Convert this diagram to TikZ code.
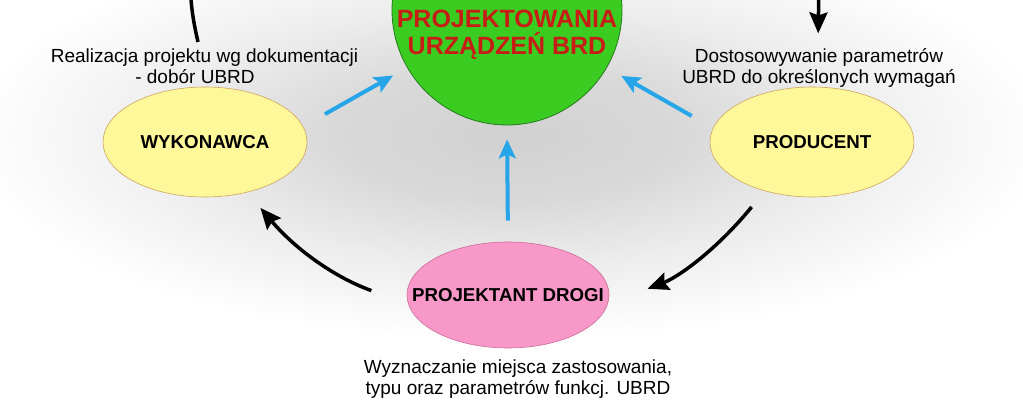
\documentclass[tikz,border=0pt]{standalone}
\usepackage{fontspec}
\setmainfont{Liberation Sans}
\usetikzlibrary{shapes.geometric,arrows.meta}
\definecolor{hubgreen}{RGB}{58,204,32}
\definecolor{hubline}{RGB}{40,120,30}
\definecolor{hubred}{RGB}{200,28,22}
\definecolor{paleyellow}{RGB}{255,248,155}
\definecolor{tanline}{RGB}{205,165,95}
\definecolor{rosefill}{RGB}{247,152,200}
\definecolor{roseline}{RGB}{205,110,150}
\definecolor{skyarrow}{RGB}{38,166,232}
\pgfdeclareradialshading{bgglow}{\pgfpoint{0bp}{0bp}}{color(0bp)=(black!18); color(8bp)=(black!15); color(16bp)=(black!7); color(25bp)=(white); color(50bp)=(white)}

\begin{document}
\begin{tikzpicture}[x=1pt, y=1pt,
            yblock/.style={
            ellipse,
            draw=tanline,
            fill=paleyellow,
            line width=0.6pt,
            minimum width=204,
            minimum height=110},
            pblock/.style={
            ellipse,
            draw=roseline,
            fill=rosefill,
            line width=0.6pt,
            minimum width=202,
            minimum height=106},
            btext/.style={
            inner sep=0,
            font=\bfseries\fontsize{18.7}{22}\selectfont},
            lbl/.style={
            inner sep=0,
            align=center,
            font=\fontsize{19}{21}\selectfont},
            bluearr/.style={
            draw=skyarrow,
            line width=4pt,
            -{Stealth[length=19pt,width=17pt,inset=4pt]}},
            blkline/.style={
            draw=black,
            line width=3.5pt},
            blkarr/.style={
            blkline,
            -{Stealth[length=21pt,width=18pt,inset=3pt]}}]

  \useasboundingbox (0,0) rectangle (1023,401);
  \fill[white] (0,0) rectangle (1023,401);
  \shade[shading=bgglow] (510,265) ellipse [x radius=540, y radius=205];

  \node[circle, draw=hubline, fill=hubgreen, line width=0.8pt, minimum size=230] (hub) at (507,391) {};
  \node[btext, anchor=north, align=center, text=hubred,
        font=\bfseries\fontsize{25}{27.5}\selectfont] (hubtext) at (507,419)
        {METODYKA\\PROJEKTOWANIA\\URZĄDZEŃ BRD};

  \node[yblock] (wykon) at (205,259) {};
  \node[btext] (wykontext) at (wykon) {WYKONAWCA};
  \node[yblock] (produ) at (812,259) {};
  \node[btext] (produtext) at (produ) {PRODUCENT};
  \node[pblock] (projd) at (508,106) {};
  \node[btext] (projdtext) at (projd) {PROJEKTANT DROGI};

  \node[lbl, anchor=north] (realiz) at (204.5,352.6) {Realizacja projektu wg dokumentacji\\- dobór UBRD\hspace*{19pt}};
  \node[lbl, anchor=north] (dostos) at (819,352.6) {Dostosowywanie parametrów\\UBRD do określonych wymagań};
  \node[lbl, anchor=north] (wyzn) at (518,41.6) {Wyznaczanie miejsca zastosowania,\\typu oraz parametrów funkcj. UBRD};

  \foreach \src/\dst/\s/\t in {wykon.9/hub.210/25/16, produ.172/hub.-30/24.5/16.5, projd.north/hub.south/21/14}
  {
      \draw[bluearr, shorten <=\s pt, shorten >=\t pt] (\src) -- (\dst);
  }

  \coordinate (topl) at (190,425);
  \coordinate (topr) at (819,425);
  \draw[blkarr, shorten <=39pt, shorten >=20.4pt] (projd.185) to[bend left=15] (wykon.-50);
  \draw[blkarr, shorten <=20.6pt, shorten >=42.4pt] (produ.226) to[bend left=15] (projd.-5);
  \draw[blkline] ([xshift=-6.5pt,yshift=6.4pt]realiz.north) to[bend left=6] (topl);
  \draw[blkarr, shorten >=15pt] (topr) -- ([xshift=-1pt]dostos.north);
\end{tikzpicture}
\end{document}
